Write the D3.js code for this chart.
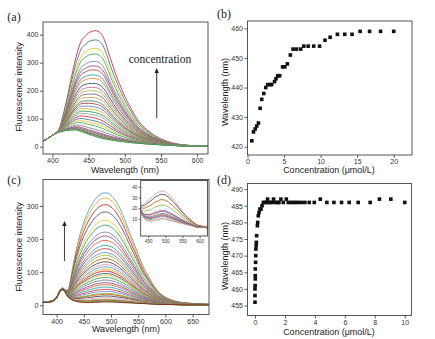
<!DOCTYPE html>
<html>
<head>
<meta charset="utf-8">
<script src="https://cdn.jsdelivr.net/npm/d3@7"></script>
<style>
  body { margin: 0; background: #fff; }
  svg { display: block; }
  text { font-family: Arial, "Liberation Sans", sans-serif; fill: #222; }
</style>
</head>
<body>
<svg width="435" height="339"></svg>
<script>
// ---- (a) emission spectra, lowest and highest trace on a shared grid ----
const waveA = [386, 395, 400, 405, 410, 415, 420, 425, 430, 435, 440, 445, 450, 455, 460, 465, 470, 475, 480, 485, 490, 495, 500, 510, 520, 530, 540, 550, 560, 570, 580, 600, 615];
const lowA  = [18, 32, 40, 48, 53, 56, 58, 59.5, 60, 58, 54, 49, 44, 40, 36, 32, 29, 26, 24, 22, 20, 19, 17, 14, 12, 10, 8, 7, 5, 4, 3, 2, 2];
const topA  = [18, 32, 40, 50, 68, 115, 170, 232, 292, 342, 378, 394, 406, 412, 414, 409, 392, 358, 316, 278, 242, 210, 180, 130, 88, 62, 42, 28, 18, 11, 7, 3, 2];
// peak intensity of each trace, top to bottom
const peaksA = [414, 381, 351, 331, 304, 288, 274, 256, 244, 226, 212, 200, 188, 176, 164, 155, 145, 136, 127, 119, 110, 101, 93, 86, 77, 71, 68, 66, 64, 63, 62, 61, 60];

// ---- (b) emission maximum vs concentration ----
const concB = [0.59, 0.82, 1.05, 1.27, 1.5, 1.73, 1.95, 2.23, 2.5, 2.77, 3.1, 3.3, 3.7, 3.9, 4.14, 4.4, 4.8, 5.1, 5.45, 5.86, 6.23, 6.7, 7.27, 7.7, 8.3, 9.05, 9.86, 10.6, 11.3, 12.3, 13.3, 14.3, 15.4, 16.7, 18.2, 20];
const waveB = [422, 425, 426, 427, 428, 433, 436, 438, 440, 441, 441, 441, 442, 443, 444, 444, 447, 447, 448, 451, 453, 453, 453, 454, 454, 454, 454, 456, 457, 458, 458, 458, 459, 459, 459, 459];

// ---- (c) emission spectra, lowest and highest trace on a shared grid ----
const waveC = [375, 388, 400, 405, 408, 411, 414, 417, 421, 425, 430, 435, 440, 446, 455, 462, 470, 479, 485, 490, 495, 500, 510, 522, 534, 546, 558, 571, 583, 595, 613, 638, 680];
const lowC  = [8, 10, 22, 38, 45, 47, 44, 36, 26, 20, 15, 12, 10, 9, 8, 8, 9, 9, 10, 10, 10, 10, 9, 8, 7, 6, 5, 4, 3, 2, 2, 1, 1];
const topC  = [10, 12, 25, 42, 50, 52, 49, 46, 46, 72, 118, 160, 196, 231, 272, 296, 318, 334, 339, 340, 338, 332, 312, 272, 221, 171, 121, 81, 50, 30, 15, 7, 3];
const peaksC = [340, 324, 304, 282, 257, 242, 221, 209, 196, 181, 171, 159, 151, 141, 131, 123, 116, 109, 103, 96, 91, 84, 76, 68, 62, 55, 48, 42, 36, 33, 28, 23, 18, 17, 15, 14, 13, 12, 10];

// ---- (d) emission maximum vs concentration ----
const concD = [0, 0, 0, 0.01, 0.02, 0.02, 0.02, 0.04, 0.05, 0.06, 0.08, 0.09, 0.11, 0.16, 0.18, 0.22, 0.27, 0.33, 0.40, 0.47, 0.56, 0.67, 0.78, 0.84, 0.93, 1.04, 1.16, 1.24, 1.38, 1.51, 1.60, 1.73, 1.89, 2.09, 2.22, 2.40, 2.56, 2.71, 2.89, 3.11, 3.33, 3.62, 3.96, 4.36, 4.80, 5.27, 5.78, 6.29, 6.89, 7.69, 8.31, 9.07, 10.0];
const waveD = [456, 458, 460, 461, 463, 464, 466, 468, 470, 472, 473, 474, 476, 479, 480, 482, 483, 484, 484, 485, 486, 486, 486, 487, 486, 486, 486, 487, 486, 486, 486, 487, 486, 487, 486, 486, 486, 486, 486, 486, 486, 486, 486, 487, 486, 486, 486, 486, 486, 486, 487, 487, 486];

const palA = ["#c8323c", "#44709f", "#e7c53a", "#4aa85a", "#808890", "#8a4f9e", "#c04a3a", "#2f9fb0", "#e0892e", "#354f7a", "#d46a9a", "#9cbc45", "#6b6b6b", "#c9a24a", "#3a8f6a", "#b03a48", "#5e86c8", "#d8b82a", "#2e9a5e", "#9aa3ab"];
const palC = ["#55a6cc", "#e6ad24", "#cf2a2a", "#3f5f8c", "#e2cf3e", "#3ea65a", "#7b8794", "#8e4a9a", "#d06a3a", "#2a9fae", "#c9405a", "#6d8fcf", "#9cbc45", "#b5651d", "#4b4b4b", "#d8a0c0"];

const svg = d3.select("svg");

// weight of the high trace so the mixed trace peaks at h
function weightFor(h, wave, low, high, from) {
  let lo = 0, hi = 1;
  for (let k = 0; k < 40; k++) {
    const m = (lo + hi) / 2;
    const mx = d3.max(wave.map((w, j) => w >= from ? low[j] + m * (high[j] - low[j]) : -1));
    if (mx < h) lo = m; else hi = m;
  }
  return (lo + hi) / 2;
}

function traces(peaks, wave, low, high, from) {
  return peaks.map(h => {
    const w = weightFor(h, wave, low, high, from);
    return wave.map((x, j) => [x, low[j] + w * (high[j] - low[j])]);
  });
}

let clipId = 0;
function panel(box, xDom, yDom, o) {
  const g = svg.append("g");
  const x = d3.scaleLinear().domain(xDom).range([box.l, box.r]);
  const y = d3.scaleLinear().domain(yDom).range([box.b, box.t]);
  const fs = o.fs || 7;
  const tick = o.tick || 3;

  const id = "clip" + (clipId++);
  g.append("clipPath").attr("id", id).append("rect")
    .attr("x", box.l).attr("y", box.t).attr("width", box.r - box.l).attr("height", box.b - box.t);
  const plot = g.append("g").attr("clip-path", `url(#${id})`);

  // minor ticks first, then major ones with labels
  const xa = g.append("g").attr("transform", `translate(0,${box.b})`);
  xa.call(d3.axisBottom(x).tickValues(o.xMinor).tickSize(tick * 0.55).tickFormat(""));
  xa.call(d3.axisBottom(x).tickValues(o.xTicks).tickSize(tick).tickPadding(1.5).tickSizeOuter(0));
  const ya = g.append("g").attr("transform", `translate(${box.l},0)`);
  ya.call(d3.axisLeft(y).tickValues(o.yMinor).tickSize(tick * 0.55).tickFormat(""));
  ya.call(d3.axisLeft(y).tickValues(o.yTicks).tickSize(tick).tickPadding(1.5).tickSizeOuter(0));
  [xa, ya].forEach(a => {
    a.selectAll(".domain").remove();
    a.selectAll("line").attr("stroke", "#333").attr("stroke-width", 0.8);
    a.selectAll("text").attr("font-size", fs).style("fill", "#333");
  });

  g.append("rect")
    .attr("x", box.l).attr("y", box.t)
    .attr("width", box.r - box.l).attr("height", box.b - box.t)
    .attr("fill", "none").attr("stroke", "#444").attr("stroke-width", 0.9);
  return { g, plot, x, y };
}

function drawTraces(p, data, pal, lastColor) {
  const line = d3.line().x(d => p.x(d[0])).y(d => p.y(d[1])).curve(d3.curveMonotoneX);
  p.plot.selectAll("path.trace").data(data).enter().append("path")
    .attr("class", "trace")
    .attr("d", line)
    .attr("fill", "none")
    .attr("stroke", (d, i) => (lastColor && i === data.length - 1) ? lastColor : pal[i % pal.length])
    .attr("stroke-width", 0.9);
}

function drawSquares(p, xs, ys) {
  p.plot.selectAll("rect.pt").data(xs).enter().append("rect")
    .attr("class", "pt")
    .attr("x", (d) => p.x(d) - 1.8)
    .attr("y", (d, i) => p.y(ys[i]) - 1.8)
    .attr("width", 3.6).attr("height", 3.6)
    .attr("fill", "#111");
}

function label(txt, x, y, o = {}) {
  const t = svg.append("text").attr("x", x).attr("y", y).text(txt)
    .attr("font-size", o.size || 9)
    .attr("text-anchor", o.anchor || "middle");
  if (o.rotate) t.attr("transform", `rotate(-90,${x},${y})`);
  if (o.serif) t.style("font-family", "'Liberation Serif', 'DejaVu Serif', serif");
  return t;
}

function arrow(x, y1, y2) {
  svg.append("line").attr("x1", x).attr("x2", x).attr("y1", y1).attr("y2", y2 + 4)
    .attr("stroke", "#444").attr("stroke-width", 1.1);
  svg.append("path").attr("d", `M${x},${y2} L${x - 2.2},${y2 + 5} L${x + 2.2},${y2 + 5} Z`).attr("fill", "#222");
}

// ---- panel (a) ----
const pa = panel({ l: 43, t: 22, r: 208, b: 154 }, [387, 615], [-26, 445], {
  xTicks: [400, 450, 500, 550, 600], xMinor: d3.range(400, 615, 25),
  yTicks: [0, 100, 200, 300, 400], yMinor: d3.range(0, 445, 50)
});
drawTraces(pa, traces(peaksA, waveA, lowA, topA, 0), palA, "#2e9a5e");
arrow(156.7, 118, 68);
label("concentration", 160, 63, { size: 11.5, serif: true });

// ---- panel (b) ----
const pb = panel({ l: 247.5, t: 21, r: 412, b: 155 }, [0, 22.5], [417.2, 462.5], {
  xTicks: [0, 5, 10, 15, 20], xMinor: d3.range(0, 22.5, 2.5),
  yTicks: [420, 430, 440, 450, 460], yMinor: d3.range(420, 462, 5)
});
drawSquares(pb, concB, waveB);

// ---- panel (c) ----
const pc = panel({ l: 43, t: 179.5, r: 209, b: 314.5 }, [375, 680], [-28, 380], {
  xTicks: [400, 450, 500, 550, 600, 650], xMinor: d3.range(400, 680, 25),
  yTicks: [0, 100, 200, 300], yMinor: d3.range(0, 380, 50)
});
const tracesC = traces(peaksC, waveC, lowC, topC, 440);
drawTraces(pc, tracesC, palC, "#8a1c1c");
arrow(64.5, 261, 221);

// inset: the weakest traces of (c) on an expanded scale
const insetBox = { l: 140.7, t: 180.5, r: 207.5, b: 236 };
svg.append("rect").attr("x", insetBox.l).attr("y", insetBox.t)
  .attr("width", insetBox.r - insetBox.l).attr("height", insetBox.b - insetBox.t).attr("fill", "#fff");
const pi = panel(insetBox, [428, 623], [-6, 46], {
  xTicks: [450, 500, 550, 600], xMinor: d3.range(450, 623, 25),
  yTicks: [10, 20, 30, 40], yMinor: d3.range(0, 46, 5), fs: 4.5, tick: 2
});
const insetTraces = tracesC.filter((d, i) => peaksC[i] <= 40);
drawTraces(pi, insetTraces, palC.slice(0).reverse().concat(palC), "#b08060");

// ---- panel (d) ----
const pd = panel({ l: 247.5, t: 183.5, r: 411.5, b: 315.5 }, [-0.5, 10.45], [452, 491.7], {
  xTicks: [0, 2, 4, 6, 8, 10], xMinor: d3.range(0, 10.4, 1),
  yTicks: [455, 460, 465, 470, 475, 480, 485, 490], yMinor: d3.range(455, 491, 2.5)
});
drawSquares(pd, concD, waveD);

// ---- titles ----
label("(a)", 14, 21, { size: 12, serif: true });
label("(b)", 224, 18, { size: 12, serif: true });
label("(c)", 14, 184, { size: 12, serif: true });
label("(d)", 224, 184, { size: 12, serif: true });

label("Fluorescence intensity", 22, 87, { rotate: true });
label("Wavelength (nm)", 125, 173);
label("Wavelength (nm)", 228, 92, { rotate: true });
label("Concentration (\u03bcmol/L)", 329, 173);
label("Fluorescence intensity", 22, 247, { rotate: true });
label("Wavelength (nm)", 126, 332);
label("Wavelength (nm)", 228, 256, { rotate: true });
label("Concentration (\u03bcmol/L)", 329, 335);
</script>
</body>
</html>
